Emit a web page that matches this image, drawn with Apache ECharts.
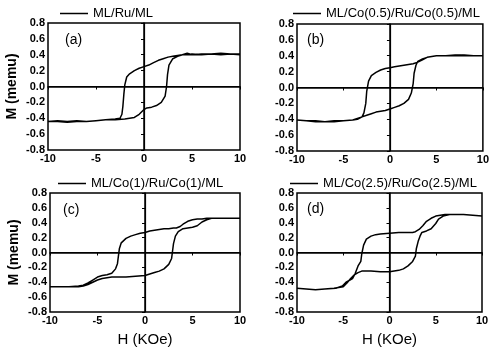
<!DOCTYPE html>
<html>
<head>
<meta charset="utf-8">
<script src="https://cdn.jsdelivr.net/npm/echarts@6.0.0/dist/echarts.min.js"></script>
<style>
  html, body { margin: 0; padding: 0; background: #fff; }
  #chart { width: 492px; height: 348px; }
</style>
</head>
<body>
<div id="chart"></div>
<script>
// panel names
const names = ['ML/Ru/ML', 'ML/Co(0.5)/Ru/Co(0.5)/ML', 'ML/Co(1)/Ru/Co(1)/ML', 'ML/Co(2.5)/Ru/Co(2.5)/ML'];
const tags = ['(a)', '(b)', '(c)', '(d)'];

// [H (KOe), M (memu)] -- descending branch (+10 -> -10), ascending branch (-10 -> +10)
const aDown = [[10,0.40],[9,0.41],[8,0.40],[7,0.41],[6,0.40],[5,0.41],[4.5,0.40],[4,0.40],[3.5,0.39],[3,0.38],[2.5,0.37],[2,0.35],[1.5,0.33],[1,0.30],[0.5,0.27],[0,0.25],[-0.5,0.23],[-1,0.20],[-1.5,0.16],[-1.8,0.12],[-2,0.02],[-2.1,-0.1],[-2.2,-0.25],[-2.3,-0.35],[-2.5,-0.40],[-3,-0.41],[-4,-0.42],[-5,-0.43],[-6,-0.44],[-7,-0.43],[-8,-0.44],[-9,-0.43],[-10,-0.44]];
const aUp = [[-10,-0.44],[-9,-0.44],[-8,-0.45],[-7,-0.44],[-6,-0.44],[-5,-0.43],[-4,-0.42],[-3,-0.42],[-2,-0.41],[-1.5,-0.40],[-1,-0.39],[-0.5,-0.35],[0,-0.29],[0.3,-0.27],[0.8,-0.26],[1.3,-0.24],[1.8,-0.20],[2.2,-0.12],[2.35,0],[2.45,0.15],[2.6,0.27],[3,0.35],[3.5,0.38],[4,0.40],[4.5,0.42],[5,0.40],[6,0.41],[7,0.41],[8,0.42],[9,0.41],[10,0.41]];

const bDown = [[10,0.40],[9,0.40],[8,0.41],[7,0.40],[6,0.40],[5,0.40],[4.5,0.39],[4,0.38],[3.5,0.35],[3,0.32],[2.5,0.30],[2,0.29],[1.5,0.28],[1,0.27],[0.5,0.26],[0,0.25],[-0.5,0.24],[-1,0.22],[-1.5,0.19],[-2,0.15],[-2.3,0.08],[-2.5,-0.05],[-2.6,-0.2],[-2.8,-0.32],[-3,-0.37],[-3.5,-0.40],[-4,-0.41],[-5,-0.42],[-6,-0.43],[-7,-0.43],[-8,-0.42],[-9,-0.42],[-10,-0.41]];
const bUp = [[-10,-0.41],[-9,-0.42],[-8,-0.43],[-7,-0.43],[-6,-0.42],[-5,-0.42],[-4,-0.41],[-3.5,-0.39],[-3,-0.37],[-2.5,-0.35],[-2,-0.33],[-1.5,-0.31],[-1,-0.30],[-0.5,-0.29],[0,-0.27],[0.5,-0.25],[1,-0.23],[1.5,-0.20],[2,-0.15],[2.3,-0.07],[2.5,0.05],[2.6,0.18],[2.8,0.28],[3,0.33],[3.5,0.36],[4,0.38],[4.5,0.39],[5,0.40],[6,0.40],[7,0.41],[8,0.40],[9,0.40],[10,0.40]];

const cDown = [[10,0.46],[9,0.46],[8,0.46],[7,0.46],[6.5,0.46],[6,0.45],[5.5,0.45],[5,0.44],[4.5,0.42],[4,0.38],[3.7,0.35],[3.3,0.33],[3,0.33],[2.5,0.32],[2,0.32],[1.5,0.31],[1,0.30],[0.5,0.29],[0,0.27],[-0.5,0.26],[-1,0.24],[-1.5,0.22],[-2,0.19],[-2.5,0.13],[-2.7,0.05],[-2.8,-0.05],[-2.9,-0.15],[-3.1,-0.22],[-3.5,-0.28],[-4,-0.30],[-4.5,-0.31],[-5,-0.33],[-5.5,-0.37],[-6,-0.41],[-6.5,-0.44],[-7,-0.45],[-8,-0.46],[-9,-0.46],[-10,-0.46]];
const cUp = [[-10,-0.46],[-9,-0.46],[-8,-0.46],[-7,-0.46],[-6.5,-0.45],[-6,-0.43],[-5.5,-0.40],[-5,-0.37],[-4.5,-0.35],[-4,-0.34],[-3.5,-0.33],[-3,-0.33],[-2,-0.33],[-1,-0.32],[0,-0.31],[0.5,-0.29],[1,-0.27],[1.5,-0.25],[2,-0.22],[2.5,-0.16],[2.8,-0.08],[2.9,0.02],[3,0.12],[3.2,0.22],[3.5,0.28],[4,0.32],[4.5,0.33],[5,0.34],[5.5,0.36],[6,0.41],[6.5,0.44],[7,0.46],[8,0.46],[9,0.46],[10,0.46]];

const dDown = [[10,0.49],[9,0.50],[8,0.51],[7,0.51],[6,0.51],[5.5,0.50],[5,0.49],[4.5,0.46],[4,0.42],[3.6,0.36],[3.2,0.31],[2.8,0.28],[2.5,0.27],[2,0.27],[1,0.27],[0,0.26],[-1,0.25],[-1.5,0.24],[-2,0.22],[-2.5,0.18],[-2.8,0.10],[-3,-0.02],[-3.1,-0.12],[-3.4,-0.18],[-3.7,-0.28],[-4,-0.35],[-4.7,-0.40],[-5.1,-0.45],[-5.8,-0.48],[-7,-0.49],[-8,-0.50],[-9,-0.49],[-10,-0.48]];
const dUp = [[-10,-0.48],[-9,-0.49],[-8,-0.50],[-7,-0.49],[-6,-0.48],[-5.5,-0.47],[-5,-0.46],[-4.6,-0.41],[-4.2,-0.35],[-3.8,-0.30],[-3.4,-0.27],[-3,-0.25],[-2,-0.25],[-1,-0.26],[0,-0.26],[1,-0.24],[1.5,-0.22],[2,-0.18],[2.5,-0.12],[2.8,-0.05],[2.9,0.05],[3.1,0.15],[3.3,0.22],[3.5,0.27],[4,0.29],[4.5,0.32],[5,0.39],[5.3,0.45],[5.8,0.49],[6.5,0.51],[7,0.51],[8,0.51],[9,0.50],[10,0.49]];

const loops = [aDown.concat(aUp), bDown.concat(bUp), cDown.concat(cUp), dDown.concat(dUp)];

const FONT = 'Liberation Sans, Arial, sans-serif';

const grids = [
  { left: 48, top: 23, width: 192, height: 127 },
  { left: 297, top: 24, width: 187, height: 127 },
  { left: 50, top: 193, width: 190, height: 127 },
  { left: 297, top: 193, width: 185, height: 128 },
];
const legendPos = [
  { left: 60, top: 7 },
  { left: 293, top: 7 },
  { left: 58, top: 177 },
  { left: 290, top: 177 },
];
const tagPos = [
  { left: 65, top: 33 },
  { left: 307, top: 33 },
  { left: 63, top: 203 },
  { left: 307, top: 202 },
];

const chart = echarts.init(document.getElementById('chart'), null, { renderer: 'canvas' });

chart.setOption({
  animation: false,
  backgroundColor: '#fff',
  grid: grids.map((g) => ({ ...g, show: true, borderColor: '#000', borderWidth: 1.5, backgroundColor: 'transparent' })),
  legend: names.map((name, i) => ({
    data: [name],
    ...legendPos[i],
    orient: 'horizontal',
    padding: 0,
    icon: 'rect',
    itemWidth: 28,
    itemHeight: 1.5,
    textStyle: { fontFamily: FONT, fontSize: 13, color: '#000' },
  })),
  xAxis: grids.map((_, i) => ({
    type: 'value',
    gridIndex: i,
    min: -10,
    max: 10,
    interval: 5,
    name: i >= 2 ? 'H (KOe)' : '',
    nameLocation: 'middle',
    nameGap: 20,
    nameTextStyle: { fontFamily: FONT, fontSize: 15, color: '#000' },
    axisLine: { show: true, lineStyle: { color: '#000', width: 1.5 } },
    axisTick: { show: true, inside: false, length: 3, lineStyle: { color: '#000' } },
    axisLabel: { margin: 3, fontFamily: FONT, fontSize: 11, fontWeight: 'bold', color: '#000' },
    splitLine: { show: false },
  })),
  yAxis: grids.map((_, i) => ({
    type: 'value',
    gridIndex: i,
    min: -0.8,
    max: 0.8,
    interval: 0.2,
    name: i % 2 === 0 ? 'M (memu)' : '',
    nameLocation: 'middle',
    nameGap: 29,
    nameTextStyle: { fontFamily: FONT, fontSize: 14, fontWeight: 'bold', color: '#000' },
    axisLine: { show: true, lineStyle: { color: '#000', width: 1.5 } },
    axisTick: { show: true, inside: false, length: 3, lineStyle: { color: '#000' } },
    axisLabel: {
      margin: 3,
      fontFamily: FONT,
      fontSize: 11,
      fontWeight: 'bold',
      color: '#000',
      formatter: (v) => v.toFixed(1),
    },
    splitLine: { show: false },
  })),
  graphic: tags.map((t, i) => ({
    type: 'text',
    ...tagPos[i],
    style: { text: t, font: '14px ' + FONT, fill: '#000' },
  })),
  series: loops.map((data, i) => ({
    name: names[i],
    type: 'line',
    xAxisIndex: i,
    yAxisIndex: i,
    data,
    symbol: 'none',
    showSymbol: false,
    lineStyle: { color: '#000', width: 1.5 },
    itemStyle: { color: '#000' },
    markLine: {
      silent: true,
      symbol: 'none',
      label: { show: false },
      lineStyle: { color: '#000', width: 1.2, type: 'solid' },
      data: [{ xAxis: 0 }, { yAxis: 0 }],
    },
  })),
});
</script>
</body>
</html>
